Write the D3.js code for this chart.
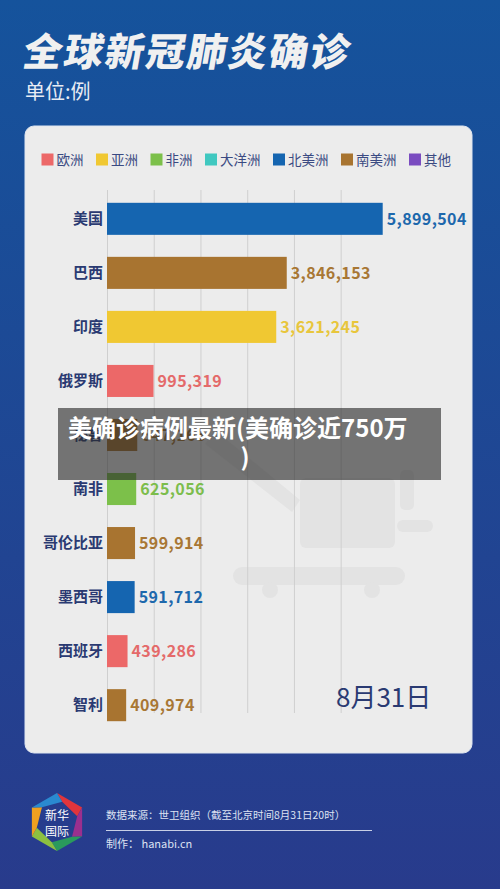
<!DOCTYPE html>
<html>
<head>
<meta charset="utf-8">
<script src="https://cdn.jsdelivr.net/npm/d3@7/dist/d3.min.js"></script>
<style>
  html, body { margin: 0; padding: 0; background: #1d4896; }
  svg { display: block; }
  text { font-family: "Noto Sans CJK SC", "Noto Sans", sans-serif; }
</style>
</head>
<body>
<div id="d3"></div>
<script>
// data
const countries = ['美国', '巴西', '印度', '俄罗斯', '秘鲁', '南非', '哥伦比亚', '墨西哥', '西班牙', '智利'];
const cases = [5899504, 3846153, 3621245, 995319, 647166, 625056, 599914, 591712, 439286, 409974];
const regions = ['北美洲', '南美洲', '亚洲', '欧洲', '南美洲', '非洲', '南美洲', '北美洲', '欧洲', '南美洲'];
const legendNames = ['欧洲', '亚洲', '非洲', '大洋洲', '北美洲', '南美洲', '其他'];
const legendColors = ['#ec6868', '#f0c832', '#7cc04a', '#40c8c0', '#1565b0', '#a87430', '#7a4cc0'];
const gridTicks = [0, 1000000, 2000000, 3000000, 4000000, 5000000];

const W = 500, H = 889;
let svg = d3.select('#d3').append('svg').attr('width', W).attr('height', H);

// background gradient
let defs = svg.append('defs');
let grad = defs.append('linearGradient').attr('id', 'bg').attr('x1', 0).attr('y1', 0).attr('x2', 0).attr('y2', 1);
grad.append('stop').attr('offset', '0%').attr('stop-color', '#15539c');
grad.append('stop').attr('offset', '100%').attr('stop-color', '#283b8c');
svg.append('rect').attr('width', W).attr('height', H).attr('fill', 'url(#bg)');

// title
svg.append('text').attr('x', 22).attr('y', 66)
  .attr('transform', 'skewX(-10) translate(11,0)')
  .attr('font-size', 39).attr('font-weight', 900).attr('fill', '#f0f0f0')
  .attr('letter-spacing', 2)
  .text('全球新冠肺炎确诊');
svg.append('text').attr('x', 25).attr('y', 99)
  .attr('font-size', 20).attr('fill', '#e8ecf4')
  .text('单位:例');

// panel
svg.append('rect').attr('x', 25).attr('y', 126).attr('width', 447).attr('height', 627)
  .attr('rx', 9).attr('fill', '#ececec').attr('stroke', '#dfe6f0').attr('stroke-width', 1);

// faint illustration behind the chart
let deco = svg.append('g').attr('fill', '#e3e3e3');
deco.append('rect').attr('x', 300).attr('y', 478).attr('width', 95).attr('height', 70).attr('rx', 6);
deco.append('rect').attr('x', 233).attr('y', 567).attr('width', 172).attr('height', 18).attr('rx', 9);
deco.append('rect').attr('x', 397).attr('y', 520).attr('width', 36).attr('height', 12).attr('rx', 6);
deco.append('rect').attr('x', 400).attr('y', 470).attr('width', 14).attr('height', 40).attr('rx', 5);
deco.append('circle').attr('cx', 270).attr('cy', 590).attr('r', 8);
deco.append('circle').attr('cx', 372).attr('cy', 590).attr('r', 8);
deco.append('path').attr('d', 'M215,430 L300,500 L292,512 L205,444 Z');

// legend
let legend = svg.append('g').attr('class', 'legend');
let lx = 41.5;
legendNames.forEach(function (name, i) {
  legend.append('rect').attr('x', lx).attr('y', 153.5).attr('width', 12).attr('height', 12)
    .attr('fill', legendColors[i]);
  let t = legend.append('text').attr('x', lx + 15).attr('y', 165)
    .attr('font-size', 13.5).attr('fill', '#3a4a82').text(name);
  lx += 15 + t.node().getComputedTextLength() + 12.5;
});

// scales
let xscale = d3.scaleLinear().domain([0, 6000000]).range([107, 387.4]);
let yscale = d3.scaleBand().domain(countries).range([192, 732]).paddingInner(0.407).paddingOuter(0.2);
let colorOf = d3.scaleOrdinal().domain(legendNames).range(legendColors);

// gridlines from an axis
let grid = d3.axisBottom(xscale).tickValues(gridTicks).tickSize(-(713 - 190)).tickFormat('');
let gridG = svg.append('g').attr('class', 'grid').attr('transform', 'translate(0,713)').call(grid);
gridG.select('.domain').remove();
gridG.selectAll('line').attr('stroke', '#cfcfcf').attr('stroke-width', 1);

// country labels via a left axis
let yAxis = d3.axisLeft(yscale).tickSize(0).tickPadding(2);
let yG = svg.append('g').attr('class', 'yAxis').attr('transform', 'translate(105,0)').call(yAxis);
yG.select('.domain').remove();
yG.selectAll('text').attr('font-size', 15).attr('font-weight', 700).attr('fill', '#2a3a72')
  .attr('font-family', '"Noto Sans CJK SC", sans-serif');

// bars
let rows = countries.map((c, i) => ({ name: c, value: cases[i], region: regions[i] }));
svg.append('g').attr('class', 'bars').selectAll('rect')
  .data(rows).enter().append('rect')
  .attr('x', xscale(0))
  .attr('y', d => yscale(d.name))
  .attr('width', d => xscale(d.value) - xscale(0))
  .attr('height', yscale.bandwidth())
  .attr('fill', d => colorOf(d.region));

// value labels
let valueColor = {
  '北美洲': '#1d68ac', '南美洲': '#a87734', '亚洲': '#e8c63c', '欧洲': '#e46a6a', '非洲': '#7cbd4c'
};
svg.append('g').attr('class', 'values').selectAll('text')
  .data(rows).enter().append('text')
  .attr('x', d => xscale(d.value) + 4)
  .attr('y', d => yscale(d.name) + yscale.bandwidth() / 2)
  .attr('dy', '0.36em')
  .attr('font-family', '"Noto Sans", sans-serif')
  .attr('font-size', 16).attr('font-weight', 700).attr('letter-spacing', 0.4)
  .attr('fill', d => valueColor[d.region])
  .text(d => d3.format(',')(d.value));

// date
svg.append('text').attr('x', 336).attr('y', 707)
  .attr('font-size', 26).attr('fill', '#2a3a72')
  .text('8月31日');

// overlay caption
svg.append('rect').attr('x', 58).attr('y', 408).attr('width', 383).attr('height', 72)
  .attr('fill', 'rgba(40,40,40,0.62)');
svg.append('text').attr('x', 68).attr('y', 437)
  .attr('font-size', 24).attr('font-weight', 700).attr('fill', '#ffffff')
  .text('美确诊病例最新(美确诊近750万');
svg.append('text').attr('x', 245).attr('y', 466).attr('text-anchor', 'middle')
  .attr('font-size', 24).attr('font-weight', 700).attr('fill', '#ffffff')
  .text(')');

// footer logo (hexagon ring)
let logo = svg.append('g').attr('transform', 'translate(57,822)');
let ringColors = ['#e0353c', '#9b2f8e', '#2a9a5c', '#8cc040', '#f0a020', '#2a8ad0'];
let R = 29, r = 21;
let pt = (rad, a) => [rad * Math.sin(a), -rad * Math.cos(a)];
ringColors.forEach(function (c, i) {
  let a0 = i * Math.PI / 3, a1 = (i + 1) * Math.PI / 3;
  let p = [pt(R, a0), pt(R, a1), pt(r, a1 + 0.25), pt(r, a0 + 0.25)];
  logo.append('path').attr('d', 'M' + p.join('L') + 'Z').attr('fill', c);
});
logo.append('text').attr('y', -2).attr('text-anchor', 'middle').attr('font-size', 12).attr('fill', '#fff').text('新华');
logo.append('text').attr('y', 14).attr('text-anchor', 'middle').attr('font-size', 12).attr('fill', '#fff').text('国际');

svg.append('text').attr('x', 106).attr('y', 819)
  .attr('font-size', 10.5).attr('fill', '#dde2f2')
  .text('数据来源：世卫组织（截至北京时间8月31日20时）');
svg.append('line').attr('x1', 106).attr('x2', 372).attr('y1', 830.5).attr('y2', 830.5)
  .attr('stroke', '#c8cfe6').attr('stroke-width', 1);
svg.append('text').attr('x', 106).attr('y', 848)
  .attr('font-size', 11).attr('fill', '#dde2f2')
  .text('制作： hanabi.cn');
</script>
</body>
</html>
